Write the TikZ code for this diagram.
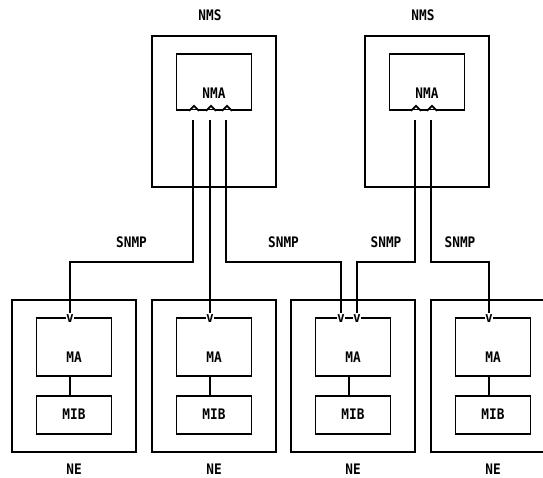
\documentclass[tikz,border=0pt]{standalone}
\usepackage{fontspec}
\usepackage{tikz}
\usetikzlibrary{positioning}
\newfontfamily\diagfont[FakeStretch=0.88]{DejaVu Sans Mono}
\newcommand{\nmfont}{\diagfont\bfseries\fontsize{14.5pt}{17pt}\selectfont}

\begin{document}
\begin{tikzpicture}[
    x=1pt,
    y=-1pt,
    outerbox/.style={
        draw,
        line width=1.7pt,
        minimum width=124pt,
        inner sep=0pt
    },
    nms/.style={outerbox, minimum height=151pt},
    ne/.style={outerbox, minimum height=152pt},
    innerbox/.style={
        draw,
        line width=1.7pt,
        minimum width=75pt,
        inner sep=0pt,
        font=\nmfont
    },
    nma/.style={innerbox, text height=44.3pt, text depth=11.7pt},
    ma/.style={innerbox, text height=44.8pt, text depth=13.2pt},
    mib/.style={innerbox, minimum height=38pt},
    tag/.style={inner sep=0pt, font=\nmfont},
    vmark/.style={fill=white, inner sep=0.5pt, font=\nmfont},
    snmp/.style={pos=0.25, above=13.7pt, inner sep=0pt, font=\nmfont},
    line/.style={
        draw,
        line width=1.7pt
    }
]
\useasboundingbox (0,0) rectangle (543,478);

% Nodes
\node [nms] (nms1) at (214,111.5) {};
\node [nms] (nms2) at (427,111.5) {};
\node [tag, above=14.7pt of nms1, xshift=-4pt] (nmslab1) {NMS};
\node [tag, above=14.7pt of nms2, xshift=-4pt] (nmslab2) {NMS};
\node [nma, below=18pt of nms1.north] (nma1) {NMA};
\node [nma, below=18pt of nms2.north] (nma2) {NMA};

\foreach \i/\x in {1/74, 2/214, 3/353, 4/493} {
    \node [ne] (ne\i) at (\x,376) {};
    \node [ma, below=18pt of ne\i.north] (ma\i) {MA};
    \node [mib, below=18pt of ma\i] (mib\i) {MIB};
    \node [tag, below=11pt of ne\i] (nelab\i) {NE};
    \path [line] ([xshift=-4pt]ma\i.south) -- ([xshift=-4pt]mib\i.north);
}

% Ports on the NMA boxes
\foreach \n/\dx in {nma1/-21, nma1/-4, nma1/12, nma2/-12, nma2/4} {
    \draw [white, line width=2.6pt] ([xshift=\dx pt]\n.south) ++(-4pt,0) -- ++(10pt,0);
    \path [line] ([xshift=\dx pt]\n.south) ++(-4pt,0) -- ++(5pt,5pt) -- ++(5pt,-5pt);
}
\coordinate (p1a) at ([xshift=-21pt, yshift=-9pt]nma1.south);
\coordinate (p1b) at ([xshift=-4pt, yshift=-9pt]nma1.south);
\coordinate (p1c) at ([xshift=12pt, yshift=-9pt]nma1.south);
\coordinate (p2a) at ([xshift=-12pt, yshift=-9pt]nma2.south);
\coordinate (p2b) at ([xshift=4pt, yshift=-9pt]nma2.south);
\coordinate (bus) at (0,262);

% Ports on the MA boxes
\node [vmark] (v1) at ([xshift=-4pt, yshift=-1pt]ma1.north) {v};
\node [vmark] (v2) at ([xshift=-4pt, yshift=-1pt]ma2.north) {v};
\node [vmark] (v3a) at ([xshift=-12pt, yshift=-1pt]ma3.north) {v};
\node [vmark] (v3b) at ([xshift=4pt, yshift=-1pt]ma3.north) {v};
\node [vmark] (v4) at ([xshift=-4pt, yshift=-1pt]ma4.north) {v};

% Paths
\path [line] (p1a) -- (p1a |- bus) -| node [snmp] (snmp1) {SNMP} (v1.north);
\path [line] (p1b) -- (v2.north);
\path [line] (p1c) -- (p1c |- bus) -| node [snmp] (snmp2) {SNMP} (v3a.north);
\path [line] (p2a) -- (p2a |- bus) -| node [snmp] (snmp3) {SNMP} (v3b.north);
\path [line] (p2b) -- (p2b |- bus) -| node [snmp] (snmp4) {SNMP} (v4.north);

\end{tikzpicture}
\end{document}
